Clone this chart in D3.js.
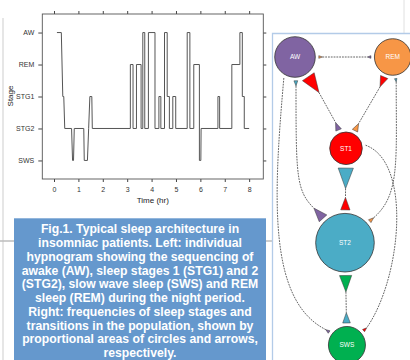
<!DOCTYPE html>
<html>
<head>
<meta charset="utf-8">
<title>Sleep architecture</title>
<script src="https://cdnjs.cloudflare.com/ajax/libs/d3/7.8.5/d3.min.js"></script>
<style>
    body { margin: 0; background: #fff; }
    svg { display: block; font-family: "Liberation Sans", Arial, sans-serif; }
</style>
</head>
<body>
<script>
    // ---- hypnogram data ----
    var stages = ["AW", "REM", "STG1", "STG2", "SWS"];
    var xTicks = [0, 1, 2, 3, 4, 5, 6, 7, 8];
    var hypTime = [0.12, 0.30, 0.36, 0.40, 0.44, 0.72, 0.76, 0.80, 0.83, 1.22, 1.24, 1.37, 1.42, 1.47, 1.55, 1.57,
        3.13, 3.13, 3.24, 3.24, 3.38, 3.38, 3.57, 3.57, 3.64, 3.64, 3.72, 3.72, 3.87, 3.87, 4.14, 4.14,
        4.30, 4.30, 4.38, 4.38, 4.53, 4.53, 4.64, 4.64, 4.73, 4.73, 4.87, 4.87, 4.99, 4.99,
        5.46, 5.46, 5.57, 5.57, 5.73, 5.73, 5.96, 5.96, 6.02, 6.03, 6.72, 6.72, 6.79, 6.79,
        7.29, 7.29, 7.62, 7.62, 7.72, 7.72, 7.80, 7.80, 8.00];
    var hypStage = ["AW", "AW", "STG1", "STG1", "STG2", "STG2", "SWS", "SWS", "STG2", "STG2", "SWS", "SWS", "STG2", "STG1", "STG1", "STG2",
        "STG2", "REM", "REM", "STG2", "STG2", "REM", "REM", "STG2", "STG2", "AW", "AW", "STG2", "STG2", "AW", "AW", "STG2",
        "STG2", "STG1", "STG1", "STG2", "STG2", "AW", "AW", "STG1", "STG1", "STG2", "STG2", "STG1", "STG1", "STG2",
        "STG2", "AW", "AW", "STG2", "STG2", "REM", "REM", "SWS", "SWS", "STG2", "STG2", "STG1", "STG1", "STG2",
        "STG2", "REM", "REM", "AW", "AW", "STG1", "STG1", "STG2", "STG2"];

    // ---- network data ----
    var nodes = ["AW", "REM", "ST1", "ST2", "SWS"];
    var nodeFreq = [18.6, 15.1, 12.0, 38.8, 15.5];
    var transFrom = ["AW", "REM", "AW", "ST1", "REM", "ST1", "AW", "ST2", "SWS", "REM", "ST2", "ST1", "ST2", "ST2", "SWS", "SWS"];
    var transTo = ["REM", "AW", "ST1", "AW", "ST1", "REM", "ST2", "AW", "AW", "ST2", "REM", "ST2", "ST1", "SWS", "ST2", "ST1"];
    var transFreq = [0.7, 0.7, 19.4, 3.4, 6.0, 3.4, 1.4, 10.0, 0.9, 0.6, 1.4, 22.3, 8.3, 14.3, 5.6, 0.9];

    var captionLines = [
        "Fig.1. Typical sleep architecture in",
        "insomniac patients. Left: individual",
        "hypnogram showing the sequencing of",
        "awake (AW), sleep stages 1 (STG1) and 2",
        "(STG2), slow wave sleep (SWS) and REM",
        "sleep (REM) during the night period.",
        "Right: frequencies of sleep stages and",
        "transitions in the population, shown by",
        "proportional areas of circles and arrows,",
        "respectively."];

    var svg = d3.select("body").append("svg")
        .attr("width", 410)
        .attr("height", 360);

    // page decorations
    svg.append("line").attr("x1", 3).attr("x2", 3).attr("y1", 18).attr("y2", 360)
        .attr("stroke", "#dedede").attr("stroke-width", 1.5);
    svg.append("line").attr("x1", 0).attr("x2", 272).attr("y1", 241).attr("y2", 241)
        .attr("stroke", "#bdbdbd").attr("stroke-width", 1.5);
    svg.append("line").attr("x1", 404).attr("x2", 404).attr("y1", 0).attr("y2", 33.5)
        .attr("stroke", "#e0e0e0").attr("stroke-width", 1);

    // ---- hypnogram ----
    var x = d3.scaleLinear().domain([-0.48, 8.58]).range([42.3, 263.3]);
    var y = d3.scalePoint().domain(stages).range([14, 179]).padding(0.58);

    var hyp = svg.append("g");

    function styleAxis(g) {
        g.select(".domain").remove();
        g.selectAll(".tick line").attr("stroke", "#444");
        g.selectAll(".tick text").attr("fill", "#333").style("font-size", "7px")
            .style("font-family", "'Liberation Sans', Arial, sans-serif");
    }

    hyp.append("g").attr("transform", "translate(0,179)")
        .call(d3.axisBottom(x).tickValues(xTicks).tickSize(3).tickPadding(5))
        .call(styleAxis);
    hyp.append("g").attr("transform", "translate(0,14)")
        .call(d3.axisTop(x).tickValues(xTicks).tickSize(3).tickFormat(""))
        .call(styleAxis);
    hyp.append("g").attr("transform", "translate(42.3,0)")
        .call(d3.axisLeft(y).tickSize(4).tickPadding(4))
        .call(styleAxis);
    hyp.append("g").attr("transform", "translate(263.3,0)")
        .call(d3.axisRight(y).tickSize(3).tickFormat(""))
        .call(styleAxis);

    hyp.append("rect")
        .attr("x", x.range()[0]).attr("y", y.range()[0])
        .attr("width", x.range()[1] - x.range()[0])
        .attr("height", y.range()[1] - y.range()[0])
        .attr("fill", "none").attr("stroke", "#555").attr("stroke-width", 0.9);

    var hypLine = d3.line()
        .x(function(d, i) { return x(hypTime[i]); })
        .y(function(d, i) { return y(hypStage[i]); });

    hyp.append("path")
        .attr("d", hypLine(hypTime))
        .attr("fill", "none")
        .attr("stroke", "#555")
        .attr("stroke-width", 1);

    hyp.append("text")
        .attr("x", (x.range()[0] + x.range()[1]) / 2).attr("y", 203)
        .attr("text-anchor", "middle").attr("fill", "#222").style("font-size", "8px")
        .text("Time (hr)");
    hyp.append("text")
        .attr("transform", "translate(13,96) rotate(-90)")
        .attr("text-anchor", "middle").attr("fill", "#222").style("font-size", "8px")
        .text("Stage");

    // ---- caption ----
    svg.append("rect")
        .attr("x", 14).attr("y", 218.3).attr("width", 252).attr("height", 150)
        .attr("fill", "#6598cd");
    svg.append("g").selectAll("text")
        .data(captionLines)
        .enter().append("text")
        .attr("x", 140)
        .attr("y", function(d, i) { return 233.3 + i * 13.75; })
        .attr("text-anchor", "middle")
        .attr("fill", "#fff")
        .style("font-size", "12.2px")
        .style("font-weight", "bold")
        .text(function(d) { return d; });

    // ---- network ----
    svg.append("path")
        .attr("d", "M272.5,360V33.5H410")
        .attr("fill", "none").attr("stroke", "#b3cbe8").attr("stroke-width", 1.3);

    var nodeColor = { AW: "#8064a2", REM: "#f79646", ST1: "#ff0000", ST2: "#4bacc6", SWS: "#00b050" };
    var col = d3.scaleLinear().domain([0, 1, 2]).range([295, 346, 392.7]);
    var row = d3.scaleLinear().domain([0, 1, 2, 3]).range([57, 148.3, 242.7, 345]);
    var grid = { AW: [0, 0], REM: [2, 0], ST1: [1, 1], ST2: [0.98, 2], SWS: [1.02, 3] };
    var r = d3.scaleSqrt().domain([0, d3.max(nodeFreq)]).range([0, 29.3]);
    var base = d3.scaleSqrt().domain([0, 1]).range([0, 3.22]);
    var gap = 3.5, tri = 1.35;

    var pos = {}, rad = {};
    nodes.forEach(function(n, i) {
        pos[n] = [col(grid[n][0]), row(grid[n][1])];
        rad[n] = r(nodeFreq[i]);
    });

    // attach angles and curve handles for each pair of nodes
    var edgeLayout = [
        { a: "AW", b: "REM" },
        { a: "AW", b: "ST1", aa: 56, ab: -112 },
        { a: "REM", b: "ST1", aa: 113, ab: -63 },
        { a: "ST1", b: "ST2" },
        { a: "ST2", b: "SWS" },
        { a: "AW", b: "ST2", aa: 88, ab: -132, ha: [90, 90], hb: [-135, 25] },
        { a: "AW", b: "SWS", aa: 118, ab: -144, ha: [95, 121], hb: [-153, 65] },
        { a: "REM", b: "ST2", aa: 82, ab: -41, ha: [90, 80], hb: [-41, 35] },
        { a: "ST1", b: "SWS", aa: -9, ab: -41, ha: [20, 50], hb: [-55, 60] }
    ];

    function rad2(deg) { return deg * Math.PI / 180; }
    function angleOf(from, to) {
        return Math.atan2(pos[to][1] - pos[from][1], pos[to][0] - pos[from][0]) * 180 / Math.PI;
    }
    function at(n, deg, dist) {
        return [pos[n][0] + dist * Math.cos(rad2(deg)), pos[n][1] + dist * Math.sin(rad2(deg))];
    }
    function findEdge(p, q) {
        return edgeLayout.find(function(e) { return (e.a === p && e.b === q) || (e.a === q && e.b === p); });
    }
    function attach(e, n) {
        var other = e.a === n ? e.b : e.a;
        var a = e.a === n ? e.aa : e.ab;
        return a === undefined ? angleOf(n, other) : a;
    }
    function triHeight(from, to) {
        var i = transFrom.findIndex(function(f, k) { return f === from && transTo[k] === to; });
        return i < 0 ? 0 : base(transFreq[i]) * tri;
    }

    var net = svg.append("g");

    edgeLayout.forEach(function(e) {
        var angA = attach(e, e.a), angB = attach(e, e.b);
        var p0 = at(e.a, angA, rad[e.a] + gap + triHeight(e.a, e.b));
        var p3 = at(e.b, angB, rad[e.b] + gap + triHeight(e.b, e.a));
        var path = d3.path();
        path.moveTo(p0[0], p0[1]);
        if (e.ha) {
            var c1 = [p0[0] + e.ha[1] * Math.cos(rad2(e.ha[0])), p0[1] + e.ha[1] * Math.sin(rad2(e.ha[0]))];
            var c2 = [p3[0] + e.hb[1] * Math.cos(rad2(e.hb[0])), p3[1] + e.hb[1] * Math.sin(rad2(e.hb[0]))];
            path.bezierCurveTo(c1[0], c1[1], c2[0], c2[1], p3[0], p3[1]);
        } else {
            path.lineTo(p3[0], p3[1]);
        }
        net.append("path")
            .attr("d", path.toString())
            .attr("fill", "none")
            .attr("stroke", "#222")
            .attr("stroke-width", 0.7)
            .attr("stroke-dasharray", "1.8,1");
    });

    // arrow triangles: at the source node, coloured by the target, pointing to it
    transFrom.forEach(function(from, i) {
        var to = transTo[i];
        var e = findEdge(from, to);
        var ang = attach(e, from);
        var b = base(transFreq[i]), h = b * tri;
        var d0 = rad[from] + gap;
        var c = at(from, ang, d0), tip = at(from, ang, d0 + h);
        var px = -Math.sin(rad2(ang)) * b / 2, py = Math.cos(rad2(ang)) * b / 2;
        net.append("path")
            .attr("d", "M" + (c[0] + px) + "," + (c[1] + py) + "L" + (c[0] - px) + "," + (c[1] - py) +
                "L" + tip[0] + "," + tip[1] + "Z")
            .attr("fill", nodeColor[to])
            .attr("stroke", "#333")
            .attr("stroke-width", 0.5);
    });

    var nodeG = net.selectAll("g.node")
        .data(nodes)
        .enter().append("g")
        .attr("class", "node")
        .attr("transform", function(n) { return "translate(" + pos[n][0] + "," + pos[n][1] + ")"; });

    nodeG.append("circle")
        .attr("r", function(n) { return rad[n]; })
        .attr("fill", function(n) { return nodeColor[n]; })
        .attr("stroke", "#333")
        .attr("stroke-width", 0.8);

    nodeG.append("text")
        .attr("text-anchor", "middle")
        .attr("dy", "0.35em")
        .attr("fill", "#fff")
        .style("font-size", "6.5px")
        .text(function(n) { return n; });
</script>
</body>
</html>
